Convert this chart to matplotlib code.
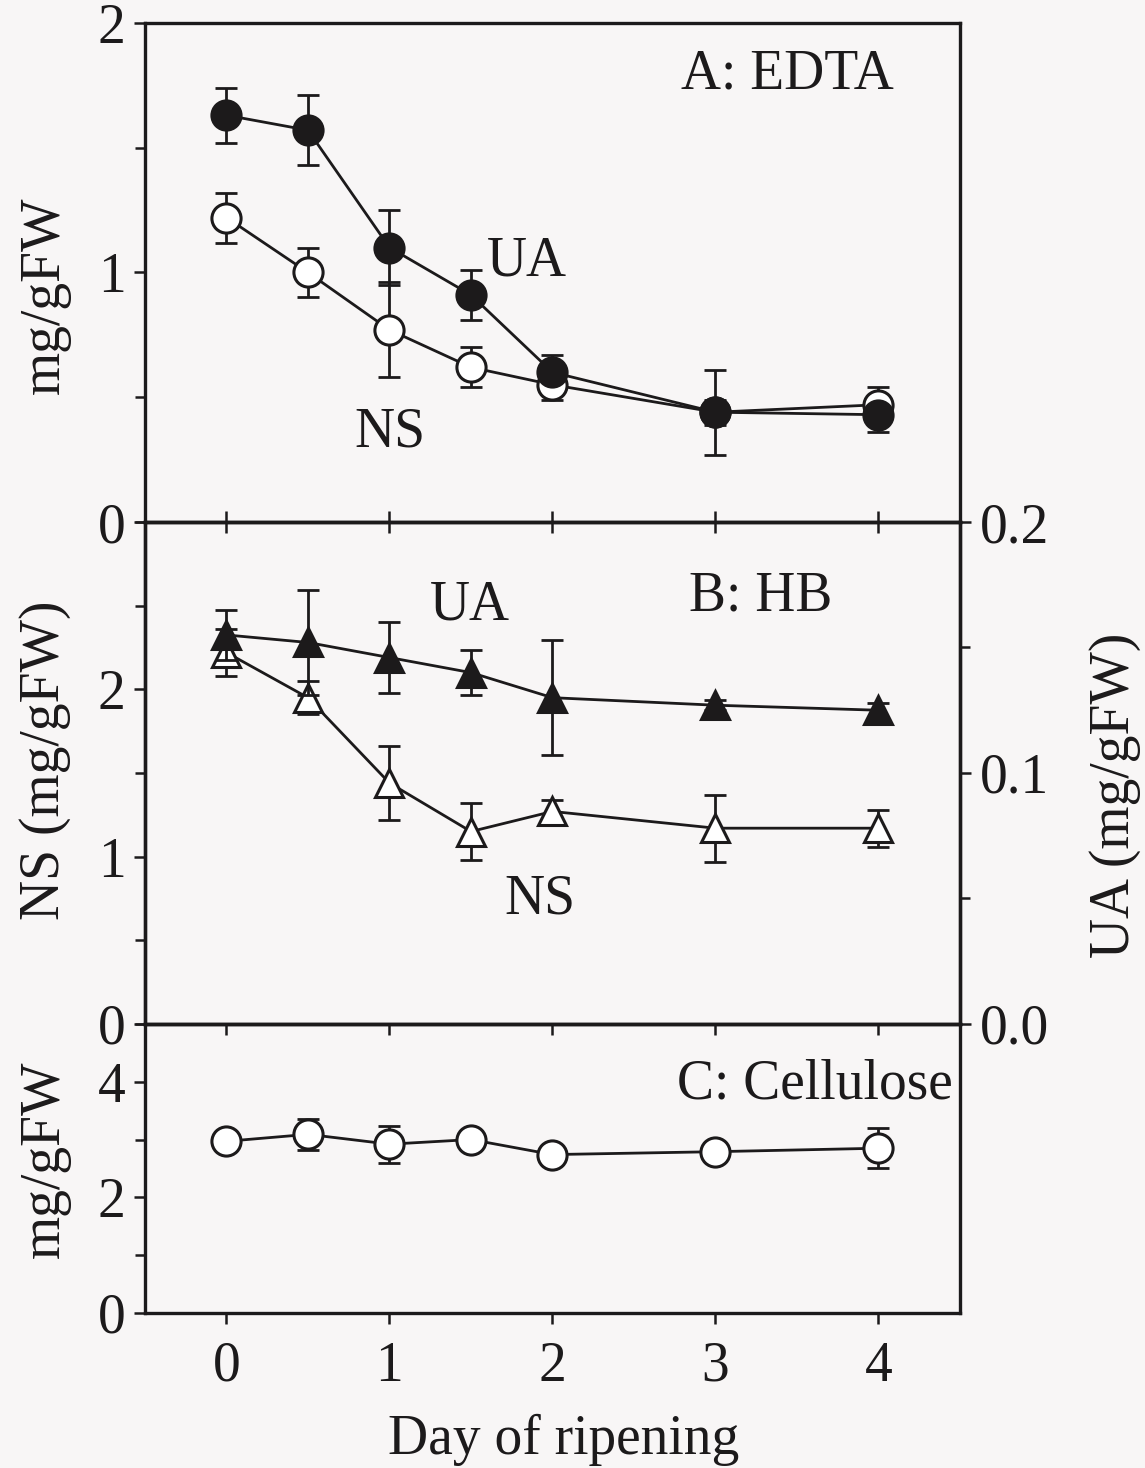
import matplotlib.pyplot as plt
from matplotlib.ticker import MultipleLocator

plt.rcParams['font.family'] = ['Liberation Serif', 'DejaVu Serif']

INK = '#1c1a1b'
PAPER = '#f8f6f6'

# === Data: day of ripening ===
days = [0, 0.5, 1, 1.5, 2, 3, 4]

# A: EDTA fraction (mg/gFW)
edta_ua = [1.63, 1.57, 1.10, 0.91, 0.60, 0.44, 0.43]
edta_ua_err = [0.11, 0.14, 0.15, 0.10, 0.07, 0.17, 0.07]
edta_ns = [1.22, 1.00, 0.77, 0.62, 0.55, 0.44, 0.47]
edta_ns_err = [0.10, 0.10, 0.19, 0.08, 0.06, 0.05, 0.07]

# B: HB fraction, NS on left axis, UA on right axis (mg/gFW)
hb_ns = [2.22, 1.95, 1.44, 1.15, 1.27, 1.17, 1.17]
hb_ns_err = [0.14, 0.10, 0.22, 0.17, 0.07, 0.20, 0.11]
hb_ua = [0.155, 0.152, 0.146, 0.140, 0.130, 0.127, 0.125]
hb_ua_err = [0.010, 0.021, 0.014, 0.009, 0.023, 0.002, 0.003]

# C: cellulose (mg/gFW)
cell = [2.97, 3.09, 2.92, 3.00, 2.74, 2.79, 2.85]
cell_err = [0.0, 0.27, 0.32, 0.0, 0.0, 0.0, 0.35]

day_ticks = [0, 1, 2, 3, 4]

# === Figure layout: three stacked panels sharing the day axis ===
fig = plt.figure(figsize=(11.45, 14.68), dpi=100, facecolor=PAPER)
left, width = 0.1266, 0.7118
ax_a = fig.add_axes([left, 0.6444, width, 0.3400])
ax_b = fig.add_axes([left, 0.3025, width, 0.3419])
ax_c = fig.add_axes([left, 0.1056, width, 0.1969])
ax_b2 = ax_b.twinx()

FS = 40
err_kw = dict(ecolor=INK, elinewidth=2.0, capsize=8, capthick=2.0, zorder=2)
line_kw = dict(color=INK, linewidth=2.0, markeredgewidth=2.2, markeredgecolor=INK, zorder=3)


def series(ax, y, yerr, marker, face, ms):
    ax.errorbar(days, y, yerr=yerr, fmt='none', **err_kw)
    ax.plot(days, y, marker=marker, markersize=ms, markerfacecolor=face, **line_kw)


for ax in (ax_a, ax_b, ax_c, ax_b2):
    ax.set_facecolor('none')
    ax.set_xlim(-0.5, 4.5)
    for sp in ax.spines.values():
        sp.set_linewidth(2.4)
        sp.set_color(INK)
    ax.tick_params(colors=INK, labelsize=FS, width=1.8, length=8)
    ax.tick_params(which='minor', width=1.8, length=7, colors=INK)

# Panel A: EDTA
series(ax_a, edta_ns, edta_ns_err, 'o', 'white', 21)
series(ax_a, edta_ua, edta_ua_err, 'o', INK, 21)
ax_a.set_ylim(0, 2)
ax_a.set_yticks([0, 1, 2])
ax_a.yaxis.set_minor_locator(MultipleLocator(0.5))
ax_a.set_xticks(day_ticks)
ax_a.tick_params(axis='x', direction='in', labelbottom=False, length=8)
ax_a.text(0.788, 0.896, 'A: EDTA', transform=ax_a.transAxes, ha='center', va='center', fontsize=FS, color=INK)
ax_a.text(0.469, 0.521, 'UA', transform=ax_a.transAxes, ha='center', va='center', fontsize=FS, color=INK)
ax_a.text(0.301, 0.180, 'NS', transform=ax_a.transAxes, ha='center', va='center', fontsize=FS, color=INK)

# Panel B: HB, NS left / UA right
series(ax_b, hb_ns, hb_ns_err, '^', 'white', 20)
series(ax_b2, hb_ua, hb_ua_err, '^', INK, 20)
ax_b.set_ylim(0, 3)
ax_b.set_yticks([0, 1, 2])
ax_b.yaxis.set_minor_locator(MultipleLocator(0.5))
ax_b.set_xticks(day_ticks)
ax_b.tick_params(axis='x', direction='in', top=True, bottom=False, labelbottom=False, length=8)
ax_b2.set_ylim(0, 0.2)
ax_b2.set_yticks([0.0, 0.1, 0.2])
ax_b2.set_yticklabels(['0.0', '0.1', '0.2'])
ax_b2.yaxis.set_minor_locator(MultipleLocator(0.05))
ax_b2.tick_params(axis='y', pad=6)
ax_b.text(0.755, 0.851, 'B: HB', transform=ax_b.transAxes, ha='center', va='center', fontsize=FS, color=INK)
ax_b.text(0.399, 0.833, 'UA', transform=ax_b.transAxes, ha='center', va='center', fontsize=FS, color=INK)
ax_b.text(0.485, 0.247, 'NS', transform=ax_b.transAxes, ha='center', va='center', fontsize=FS, color=INK)

# Panel C: cellulose
series(ax_c, cell, cell_err, 'o', 'white', 21)
ax_c.set_ylim(0, 5)
ax_c.set_yticks([0, 2, 4])
ax_c.yaxis.set_minor_locator(MultipleLocator(1))
ax_c.set_xticks(day_ticks)
ax_c.tick_params(axis='x', direction='out', pad=12)
ax_c.secondary_xaxis('top').tick_params(direction='in', labeltop=False, length=8, width=1.8, colors=INK)
ax_c.text(0.822, 0.789, 'C: Cellulose', transform=ax_c.transAxes, ha='center', va='center', fontsize=FS, color=INK)

for ax in (ax_a, ax_b, ax_c):
    ax.tick_params(axis='y', pad=6)

# Axis titles
fig.text(0.039, 0.799, 'mg/gFW', rotation=90, ha='center', va='center', fontsize=FS, color=INK)
fig.text(0.039, 0.482, 'NS (mg/gFW)', rotation=90, ha='center', va='center', fontsize=FS, color=INK)
fig.text(0.039, 0.210, 'mg/gFW', rotation=90, ha='center', va='center', fontsize=FS, color=INK)
fig.text(0.974, 0.458, 'UA (mg/gFW)', rotation=90, ha='center', va='center', fontsize=FS, color=INK)
fig.text(0.492, 0.019, 'Day of ripening', ha='center', va='center', fontsize=FS, color=INK)

fig.savefig('out.png', dpi=100, facecolor=PAPER)
